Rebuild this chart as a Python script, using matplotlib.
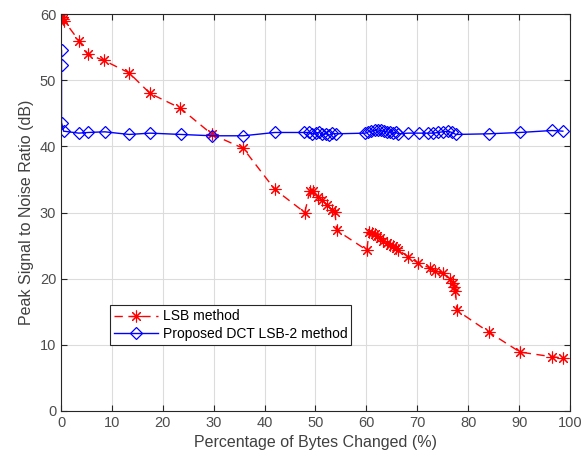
import matplotlib
matplotlib.use("Agg")
import matplotlib.pyplot as plt

plt.rcParams['font.family'] = ['Liberation Sans', 'DejaVu Sans']

# LSB method
lsb_x = [0.1, 0.3, 0.6, 3.5, 5.3, 8.4, 13.4, 17.5, 23.4, 29.7, 35.8, 42.0,
         47.9, 48.9, 49.5, 50.5, 51.3, 52.3, 53.2, 53.8, 54.2,
         60.1, 60.5, 61.1, 61.6, 62.1, 62.7, 63.3, 64.0, 64.6, 65.2, 65.8, 66.2,
         68.2, 70.1, 72.5, 73.5, 75.0, 76.4, 77.0, 77.3, 77.5, 77.8,
         84.1, 90.2, 96.5, 98.6]
lsb_y = [59.6, 59.3, 59.0, 56.0, 53.9, 53.0, 51.1, 48.0, 45.8, 41.8, 39.7, 33.5,
         30.0, 33.3, 33.2, 32.3, 31.9, 31.1, 30.4, 30.1, 27.3,
         24.3, 27.0, 26.9, 26.7, 26.4, 26.1, 25.7, 25.4, 25.1, 24.9, 24.6, 24.4,
         23.3, 22.4, 21.6, 21.2, 20.8, 19.9, 19.3, 18.8, 18.2, 15.2,
         11.9, 8.9, 8.2, 8.0]

# Proposed DCT LSB-2 method
dct_x = [0.1, 0.1, 0.1, 0.5, 3.5, 5.3, 8.6, 13.4, 17.5, 23.6, 29.7, 35.8, 42.0,
         47.7, 48.7, 49.3, 50.1, 50.7, 51.3, 52.1, 52.7, 53.3, 54.1,
         59.8, 60.4, 61.0, 61.6, 62.2, 62.8, 63.4, 64.0, 64.6, 65.2, 65.8, 66.3,
         68.2, 70.3, 72.1, 73.1, 74.1, 75.0, 76.0, 76.8, 77.6,
         84.1, 90.2, 96.5, 98.6]
dct_y = [54.5, 52.3, 43.6, 42.3, 42.0, 42.1, 42.2, 41.8, 42.0, 41.8, 41.6, 41.6, 42.1,
         42.1, 42.1, 41.9, 42.0, 42.1, 41.8, 41.9, 41.7, 42.0, 41.9,
         42.0, 42.2, 42.3, 42.4, 42.5, 42.4, 42.3, 42.2, 42.1, 42.0, 42.1, 41.9,
         42.0, 42.0, 42.0, 42.0, 42.1, 42.2, 42.3, 42.1, 41.8,
         41.9, 42.1, 42.4, 42.3]

xticks = [0, 10, 20, 30, 40, 50, 60, 70, 80, 90, 100]
yticks = [0, 10, 20, 30, 40, 50, 60]

fig = plt.figure(figsize=(5.81, 4.61), dpi=100)
ax = fig.add_axes([0.105, 0.1085, 0.876, 0.861])

ax.plot(lsb_x, lsb_y, color='red', linestyle=(0, (6, 4)), linewidth=1.0,
        marker=(8, 2, 0), markersize=8.5, markeredgewidth=0.8, label='LSB method')
ax.plot(dct_x, dct_y, color='blue', linestyle='-', linewidth=1.0,
        marker='D', markersize=6, markerfacecolor='none', markeredgewidth=0.9,
        label='Proposed DCT LSB-2 method')

ax.set_xlim(0, 100)
ax.set_ylim(0, 60)
ax.set_xticks(xticks)
ax.set_yticks(yticks)
ax.grid(True, color='#dcdcdc', linewidth=0.8)
ax.set_axisbelow(True)
ax.tick_params(direction='in', top=True, right=True, length=4, width=0.8,
               colors='#262626', labelsize=10.5, labelcolor='#4d4d4d')
for s in ax.spines.values():
    s.set_color('#262626')
    s.set_linewidth(0.8)

ax.set_xlabel('Percentage of Bytes Changed (%)', fontsize=11.5, color='#404040')
ax.set_ylabel('Peak Signal to Noise Ratio (dB)', fontsize=11.5, color='#404040')

leg = ax.legend(loc='lower left', bbox_to_anchor=(0.096, 0.166), borderaxespad=0,
                fontsize=10, fancybox=False, framealpha=1, edgecolor='#262626',
                handlelength=3.2, borderpad=0.3, labelspacing=0.25, handletextpad=0.3)
leg.get_frame().set_linewidth(0.8)

fig.savefig('out.png', dpi=100)
